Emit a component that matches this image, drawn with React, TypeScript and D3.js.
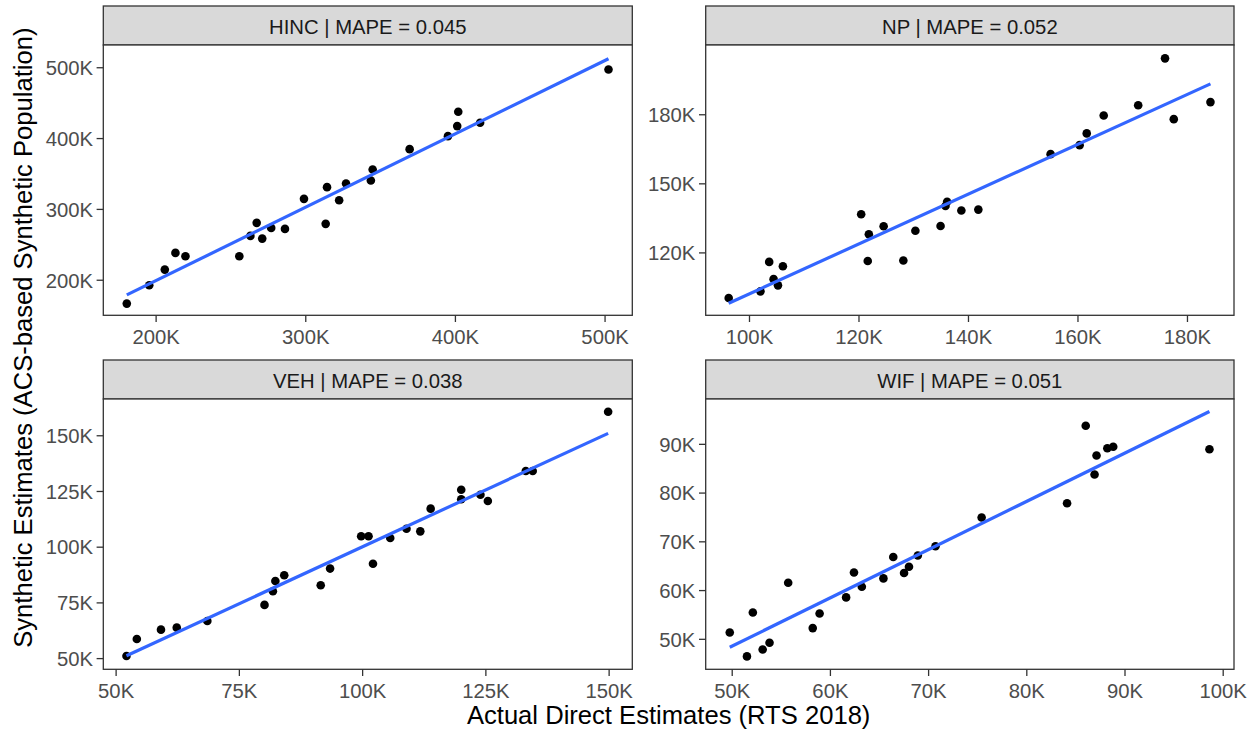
import * as d3 from "d3";

// values in thousands
const hincActual = [180.4, 195.4, 205.8, 212.9, 219.6, 255.6, 263.0, 267.2, 270.9, 276.9, 286.1, 298.8, 313.3, 314.2, 322.3, 326.9, 343.5, 344.7, 369.4, 395.0, 401.2, 401.9, 416.5, 502.3];
const hincSynthetic = [167.0, 193.0, 215.0, 238.6, 233.9, 233.9, 262.6, 281.0, 258.8, 273.9, 272.5, 314.9, 279.6, 331.4, 313.0, 336.6, 340.8, 356.3, 385.1, 403.4, 417.6, 437.8, 422.3, 497.6];

const npActual = [96.2, 102.0, 103.6, 104.4, 105.2, 106.1, 120.4, 121.8, 121.6, 124.5, 128.1, 130.3, 134.9, 135.8, 136.1, 138.7, 141.8, 155.0, 160.3, 161.6, 164.7, 171.0, 175.9, 177.5, 184.2];
const npSynthetic = [100.4, 103.3, 116.1, 108.6, 105.9, 114.2, 136.8, 128.1, 116.5, 131.6, 116.7, 129.6, 131.7, 140.4, 142.2, 138.4, 138.8, 162.9, 166.8, 171.9, 179.7, 184.1, 204.5, 178.1, 185.5];

const vehActual = [52.1, 54.2, 59.1, 62.3, 68.5, 80.1, 81.8, 82.3, 84.1, 91.5, 93.4, 99.7, 101.2, 102.1, 105.6, 108.9, 111.7, 113.8, 120.0, 120.0, 123.9, 125.4, 133.1, 134.5, 149.8];
const vehSynthetic = [51.2, 58.8, 63.0, 63.9, 66.9, 74.1, 80.2, 84.8, 87.4, 82.9, 90.4, 104.9, 104.9, 92.6, 104.1, 108.3, 107.1, 117.3, 125.8, 121.5, 123.5, 120.7, 134.2, 134.2, 160.8];

const wifActual = [49.75, 51.5, 52.1, 53.1, 53.8, 55.7, 58.2, 58.9, 61.6, 62.4, 63.2, 65.4, 66.4, 67.5, 68.0, 68.9, 70.7, 75.4, 84.1, 86.0, 86.9, 87.1, 88.2, 88.8, 98.6];
const wifSynthetic = [51.4, 46.5, 55.5, 47.9, 49.3, 61.6, 52.3, 55.3, 58.6, 63.7, 60.8, 62.5, 66.9, 63.6, 64.9, 67.2, 69.1, 75.0, 77.9, 93.8, 83.8, 87.7, 89.2, 89.5, 89.0];

const panelTitles = ["HINC | MAPE = 0.045", "NP | MAPE = 0.052", "VEH | MAPE = 0.038", "WIF | MAPE = 0.051"];

const hincXDomain = [164.7, 518.2];
const hincYDomain = [150.5, 532.1];
const npXDomain = [92.0, 188.5];
const npYDomain = [92.9, 210.3];
const vehXDomain = [47.4, 154.7];
const vehYDomain = [45.2, 166.5];
const wifXDomain = [47.3, 101.1];
const wifYDomain = [43.85, 99.3];

const hincXTicks = [200, 300, 400, 500];
const hincYTicks = [200, 300, 400, 500];
const npXTicks = [100, 120, 140, 160, 180];
const npYTicks = [120, 150, 180];
const vehXTicks = [50, 75, 100, 125, 150];
const vehYTicks = [50, 75, 100, 125, 150];
const wifXTicks = [50, 60, 70, 80, 90, 100];
const wifYTicks = [50, 60, 70, 80, 90];

const xTitle = "Actual Direct Estimates (RTS 2018)";
const yTitle = "Synthetic Estimates (ACS-based Synthetic Population)";

const width = 1258;
const height = 732;
const colLeft = [103.3, 705.7];
const colWidth = [529, 528.3];
const stripTop = [6, 360];
const stripHeight = 39;
const plotHeight = 270.3;
const tickLen = 6.7;
const textSize = 20.3;
const titleSize = 25.6;
const fontFamily = "'Liberation Sans', Arial, Helvetica, sans-serif";
const border = "#333333";

type PanelSpec = {
  title: string;
  xs: number[];
  ys: number[];
  xDomain: number[];
  yDomain: number[];
  xTicks: number[];
  yTicks: number[];
};

const panels: PanelSpec[] = [
  { title: panelTitles[0], xs: hincActual, ys: hincSynthetic, xDomain: hincXDomain, yDomain: hincYDomain, xTicks: hincXTicks, yTicks: hincYTicks },
  { title: panelTitles[1], xs: npActual, ys: npSynthetic, xDomain: npXDomain, yDomain: npYDomain, xTicks: npXTicks, yTicks: npYTicks },
  { title: panelTitles[2], xs: vehActual, ys: vehSynthetic, xDomain: vehXDomain, yDomain: vehYDomain, xTicks: vehXTicks, yTicks: vehYTicks },
  { title: panelTitles[3], xs: wifActual, ys: wifSynthetic, xDomain: wifXDomain, yDomain: wifYDomain, xTicks: wifXTicks, yTicks: wifYTicks }
];

// ordinary least squares, like geom_smooth(method = "lm")
function fitLine(xs: number[], ys: number[]) {
  const mx = d3.mean(xs) ?? 0;
  const my = d3.mean(ys) ?? 0;
  let sxy = 0;
  let sxx = 0;
  xs.forEach((x, i) => {
    sxy += (x - mx) * (ys[i] - my);
    sxx += (x - mx) * (x - mx);
  });
  const slope = sxy / sxx;
  const intercept = my - slope * mx;
  const [x0, x1] = d3.extent(xs) as [number, number];
  return [
    [x0, intercept + slope * x0],
    [x1, intercept + slope * x1]
  ] as [number, number][];
}

function Panel({ spec, index }: { spec: PanelSpec; index: number }) {
  const col = index % 2;
  const row = Math.floor(index / 2);
  const left = colLeft[col];
  const w = colWidth[col];
  const top = stripTop[row];
  const plotTop = top + stripHeight;
  const x = d3.scaleLinear().domain(spec.xDomain).range([0, w]);
  const y = d3.scaleLinear().domain(spec.yDomain).range([plotHeight, 0]);
  const fit = fitLine(spec.xs, spec.ys);
  const linePath = d3
    .line<[number, number]>()
    .x((d) => x(d[0]))
    .y((d) => y(d[1]))(fit) ?? "";

  return (
    <g>
      <rect x={left} y={top} width={w} height={stripHeight} fill="#D9D9D9" stroke={border} strokeWidth={1.3} />
      <text
        x={left + w / 2}
        y={top + 28.3}
        textAnchor="middle"
        fontSize={textSize}
        fill="#1A1A1A"
        fontFamily={fontFamily}
      >
        {spec.title}
      </text>
      <g transform={`translate(${left}, ${plotTop})`}>
        <rect x={0} y={0} width={w} height={plotHeight} fill="#FFFFFF" />
        <defs>
          <clipPath id={`clip-${index}`}>
            <rect x={0} y={0} width={w} height={plotHeight} />
          </clipPath>
        </defs>
        <g clipPath={`url(#clip-${index})`}>
          {spec.xs.map((v, i) => (
            <circle key={i} cx={x(v)} cy={y(spec.ys[i])} r={4.3} fill="#000000" />
          ))}
          <path d={linePath} fill="none" stroke="#3366FF" strokeWidth={3.2} />
        </g>
        <rect x={0} y={0} width={w} height={plotHeight} fill="none" stroke={border} strokeWidth={1.3} />
        {spec.xTicks.map((t) => (
          <g key={`x${t}`}>
            <line x1={x(t)} x2={x(t)} y1={plotHeight} y2={plotHeight + tickLen} stroke={border} strokeWidth={1.3} />
            <text
              x={x(t)}
              y={plotHeight + 28.6}
              textAnchor="middle"
              fontSize={textSize}
              fill="#4D4D4D"
              fontFamily={fontFamily}
            >
              {`${t}K`}
            </text>
          </g>
        ))}
        {spec.yTicks.map((t) => (
          <g key={`y${t}`}>
            <line x1={-tickLen} x2={0} y1={y(t)} y2={y(t)} stroke={border} strokeWidth={1.3} />
            <text
              x={-tickLen - 3.6}
              y={y(t) + 7.3}
              textAnchor="end"
              fontSize={textSize}
              fill="#4D4D4D"
              fontFamily={fontFamily}
            >
              {`${t}K`}
            </text>
          </g>
        ))}
      </g>
    </g>
  );
}

export default function App() {
  const areaLeft = colLeft[0];
  const areaRight = colLeft[1] + colWidth[1];
  const areaTop = stripTop[0];
  const areaBottom = stripTop[1] + stripHeight + plotHeight;
  return (
    <svg
      width={width}
      height={height}
      style={{ position: "absolute", left: 0, top: 0, display: "block", background: "#FFFFFF" }}
    >
      <rect x={0} y={0} width={width} height={height} fill="#FFFFFF" />
      {panels.map((p, i) => (
        <Panel key={p.title} spec={p} index={i} />
      ))}
      <text
        x={(areaLeft + areaRight) / 2}
        y={724}
        textAnchor="middle"
        fontSize={titleSize}
        fill="#000000"
        fontFamily={fontFamily}
      >
        {xTitle}
      </text>
      <text
        transform={`translate(32, ${(areaTop + areaBottom) / 2}) rotate(-90)`}
        textAnchor="middle"
        fontSize={titleSize}
        fill="#000000"
        fontFamily={fontFamily}
      >
        {yTitle}
      </text>
    </svg>
  );
}
